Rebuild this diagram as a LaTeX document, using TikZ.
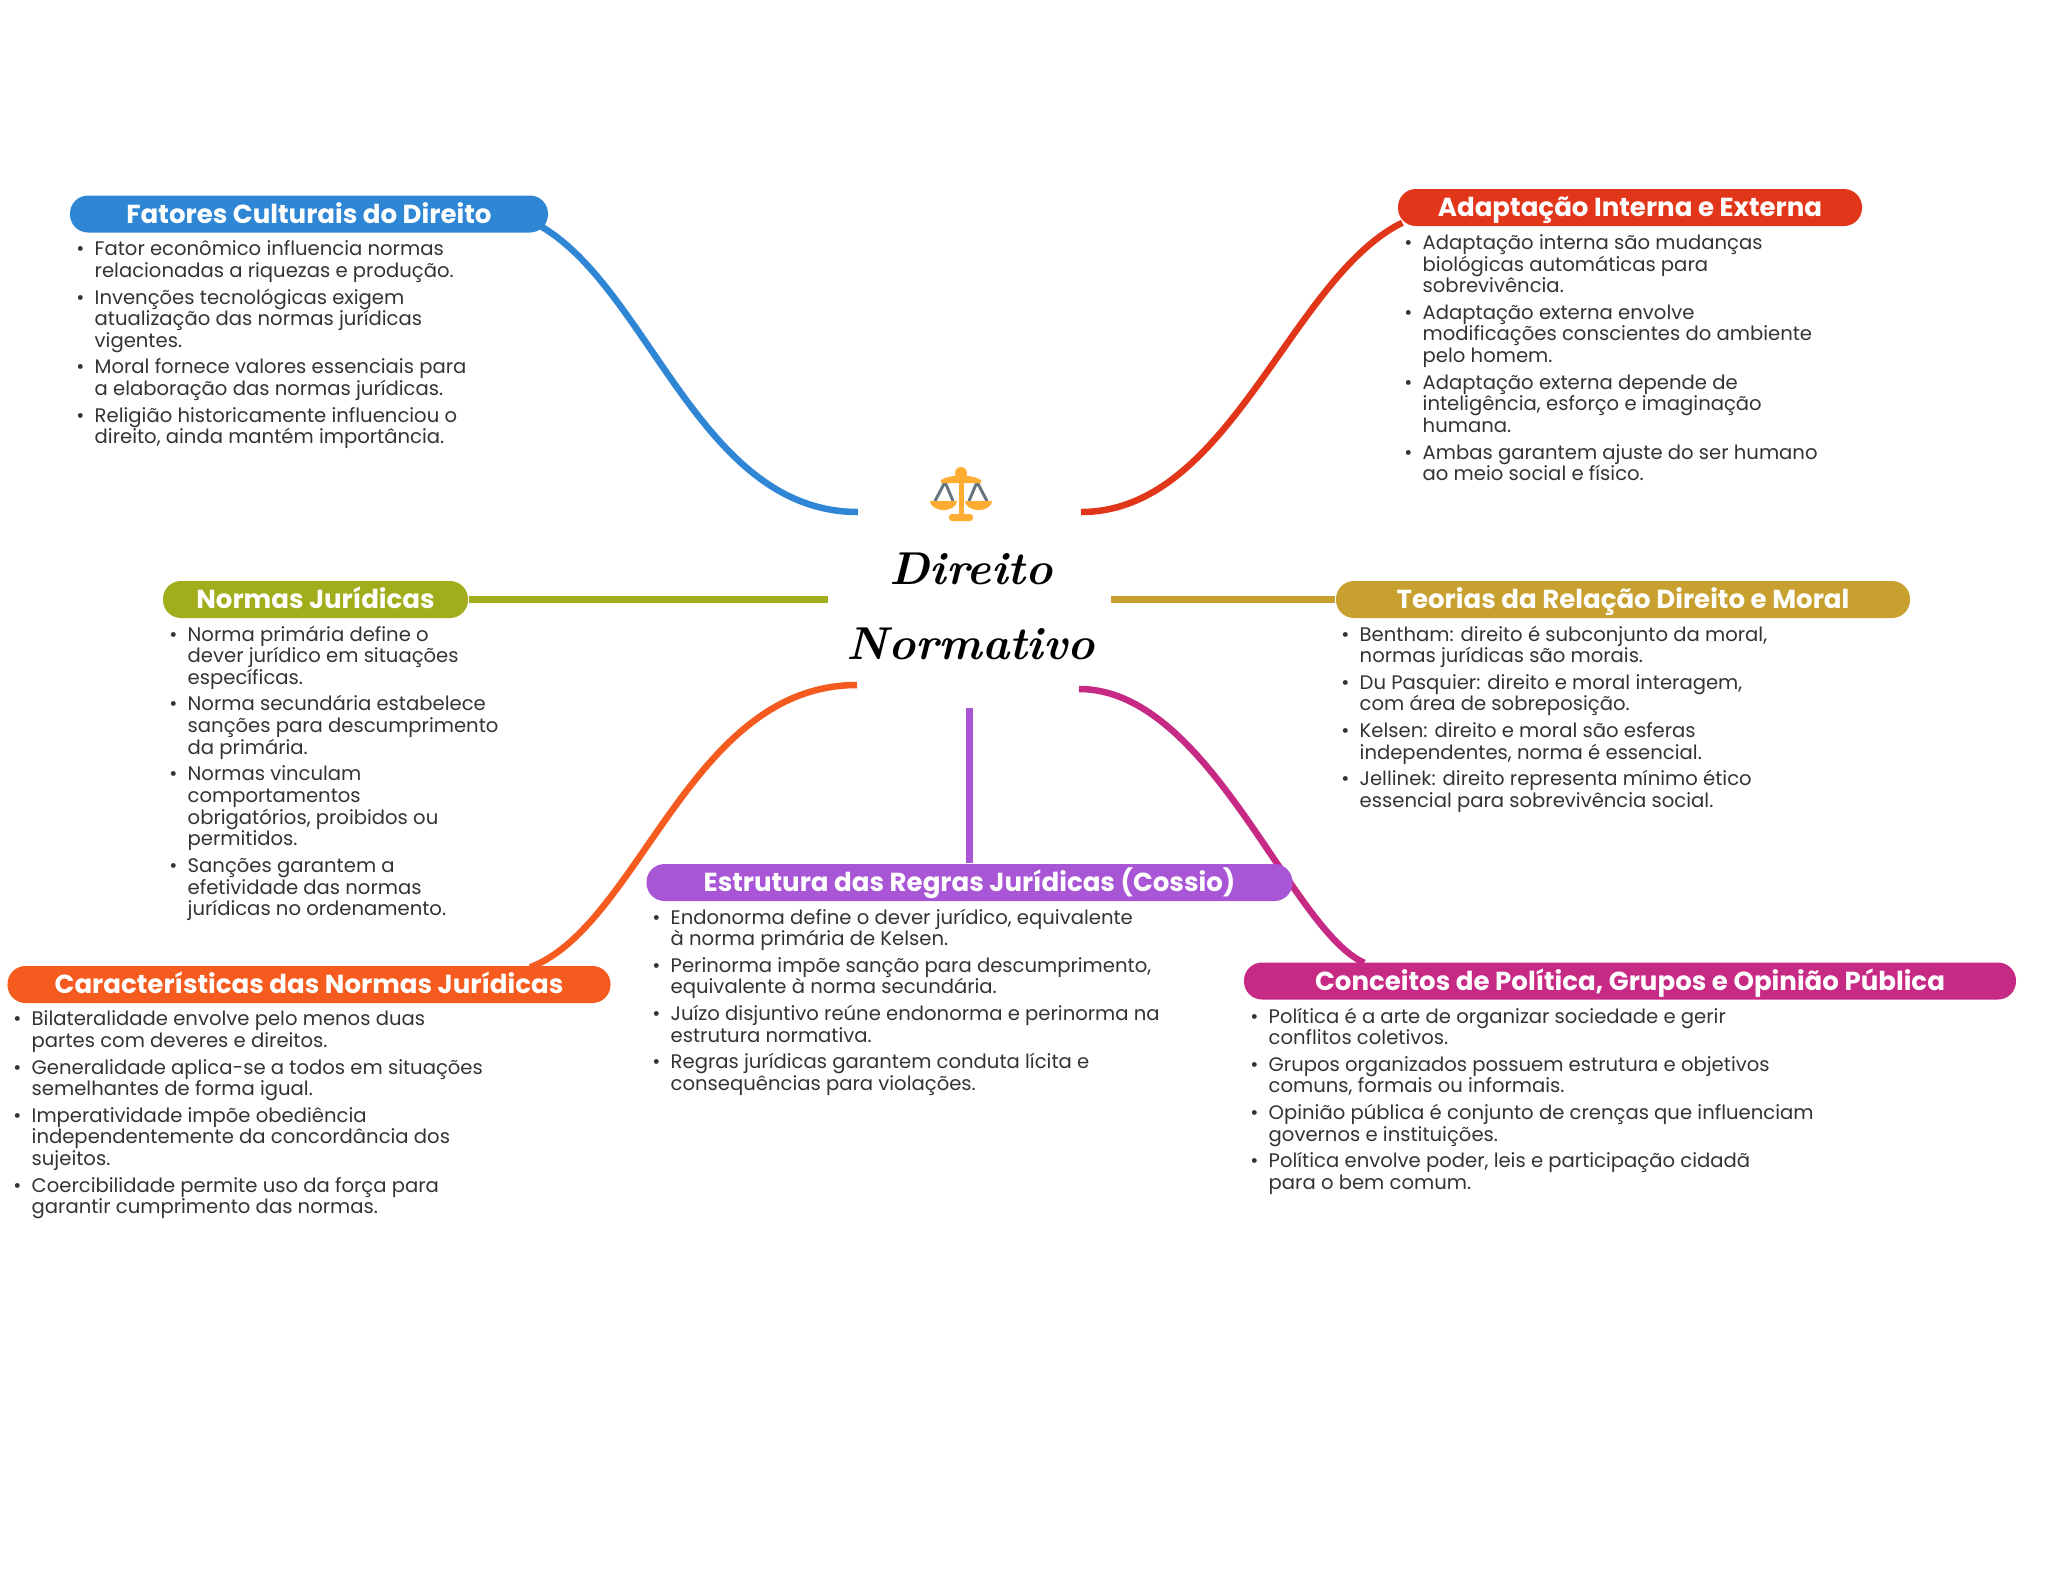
\documentclass[tikz,border=0pt]{standalone}
\usepackage{fontspec}
\setmainfont{Poppins}
\newfontfamily\titlefont{Latin Modern Roman}
\definecolor{cfat}{HTML}{2F86D5}
\definecolor{cada}{HTML}{E2361A}
\definecolor{cnor}{HTML}{A2AD1C}
\definecolor{cteo}{HTML}{C8A02F}
\definecolor{cest}{HTML}{A855D6}
\definecolor{ccar}{HTML}{F55A1E}
\definecolor{ccon}{HTML}{C72A85}
\definecolor{cbody}{HTML}{333333}
\definecolor{cgold}{HTML}{FFAC33}
\definecolor{csteel}{HTML}{66757F}
\newcommand{\bul}{\strut\llap{\textbullet\hspace{2.9pt}}}
\tikzset{
  pill/.style={rounded corners=0.18cm, minimum height=0.37cm, inner sep=0pt,
               text height=0.21cm, text depth=0.03cm,
               text=white, font=\fontsize{7.42}{8}\selectfont\bfseries},
  body/.style={anchor=north west, inner sep=0pt, align=left, text=cbody,
               font={\fontsize{5.58}{6.17}\selectfont\lineskiplimit=-5pt}},
  link/.style={line width=0.065cm},
}

\begin{document}
\begin{tikzpicture}
\useasboundingbox (0,0) rectangle (20.48,-15.69);

%% ends of the links around the title
\coordinate (hfat) at (8.58,-5.12);
\coordinate (hada) at (10.81,-5.12);
\coordinate (hnor) at (8.28,-5.995);
\coordinate (hteo) at (11.11,-5.995);
\coordinate (hcar) at (8.57,-6.85);
\coordinate (hest) at (9.695,-7.08);
\coordinate (hcon) at (10.79,-6.89);

%% branch heads
\coordinate (pfat) at (3.09,-2.14);
\coordinate (pada) at (16.30,-2.075);
\coordinate (pnor) at (3.155,-5.995);
\coordinate (pteo) at (16.23,-5.995);
\coordinate (pest) at (9.695,-8.825);
\coordinate (pcar) at (3.09,-9.845);
\coordinate (pcon) at (16.30,-9.81);

% links go first, the heads cover their ends
\path (pfat) node[pill, minimum width=4.78cm] (fat) {}
      (pada) node[pill, minimum width=4.64cm] (ada) {}
      (pnor) node[pill, minimum width=3.05cm] (nor) {}
      (pteo) node[pill, minimum width=5.74cm] (teo) {}
      (pest) node[pill, minimum width=6.46cm] (est) {}
      (pcar) node[pill, minimum width=6.03cm] (car) {}
      (pcon) node[pill, minimum width=7.72cm] (con) {};

\draw[link, cfat] ([shift={(-0.08,0.07)}]fat.south east)
  .. controls (6.50,-2.90) and (7.00,-5.12) .. (hfat);
\draw[link, cada] ([shift={(0.05,0.04)}]ada.south west)
  .. controls (12.90,-2.78) and (12.30,-5.12) .. (hada);
\draw[link, cnor] (nor.east) -- (hnor);
\draw[link, cteo] (teo.west) -- (hteo);
\draw[link, cest] (est.north) -- (hest);
\draw[link, ccar] ([shift={(-0.81,-0.02)}]car.north east)
  .. controls (6.40,-9.25) and (6.90,-6.85) .. (hcar);
\draw[link, ccon] ([shift={(1.21,-0.01)}]con.north west)
  .. controls (12.90,-9.30) and (12.10,-6.89) .. (hcon);

%% heads
\node[pill, fill=cfat, minimum width=4.78cm] (fatt) at (pfat) {Fatores Culturais do Direito};
\node[pill, fill=cada, minimum width=4.64cm] (adat) at (pada) {Adaptação Interna e Externa};
\node[pill, fill=cnor, minimum width=3.05cm] (nort) at (pnor) {Normas Jurídicas};
\node[pill, fill=cteo, minimum width=5.74cm] (teot) at (pteo) {Teorias da Relação Direito e Moral};
\node[pill, fill=cest, minimum width=6.46cm] (estt) at (pest) {Estrutura das Regras Jurídicas (Cossio)};
\node[pill, fill=ccar, minimum width=6.03cm] (cart) at (pcar) {Características das Normas Jurídicas};
\node[pill, fill=ccon, minimum width=7.72cm] (cont) at (pcon) {Conceitos de Política, Grupos e Opinião Pública};

%% bullet lists
\node[body] (lfat) at (0.94,-2.40) {\bul Fator econômico influencia normas\\relacionadas a riquezas e produção.\\[1.37pt]
  \bul Invenções tecnológicas exigem\\atualização das normas jurídicas\\vigentes.\\[1.37pt]
  \bul Moral fornece valores essenciais para\\a elaboração das normas jurídicas.\\[1.37pt]
  \bul Religião historicamente influenciou o\\direito, ainda mantém importância.};
\node[body] (lada) at (14.22,-2.335) {\bul Adaptação interna são mudanças\\biológicas automáticas para\\sobrevivência.\\[1.37pt]
  \bul Adaptação externa envolve\\modificações conscientes do ambiente\\pelo homem.\\[1.37pt]
  \bul Adaptação externa depende de\\inteligência, esforço e imaginação\\humana.\\[1.37pt]
  \bul Ambas garantem ajuste do ser humano\\ao meio social e físico.};
\node[body] (lnor) at (1.87,-6.25) {\bul Norma primária define o\\dever jurídico em situações\\específicas.\\[1.37pt]
  \bul Norma secundária estabelece\\sanções para descumprimento\\da primária.\\[1.37pt]
  \bul Normas vinculam\\comportamentos\\obrigatórios, proibidos ou\\permitidos.\\[1.37pt]
  \bul Sanções garantem a\\efetividade das normas\\jurídicas no ordenamento.};
\node[body] (lteo) at (13.59,-6.25) {\bul Bentham: direito é subconjunto da moral,\\normas jurídicas são morais.\\[1.37pt]
  \bul Du Pasquier: direito e moral interagem,\\com área de sobreposição.\\[1.37pt]
  \bul Kelsen: direito e moral são esferas\\independentes, norma é essencial.\\[1.37pt]
  \bul Jellinek: direito representa mínimo ético\\essencial para sobrevivência social.};
\node[body] (lest) at (6.70,-9.08) {\bul Endonorma define o dever jurídico, equivalente\\à norma primária de Kelsen.\\[1.37pt]
  \bul Perinorma impõe sanção para descumprimento,\\equivalente à norma secundária.\\[1.37pt]
  \bul Juízo disjuntivo reúne endonorma e perinorma na\\estrutura normativa.\\[1.37pt]
  \bul Regras jurídicas garantem conduta lícita e\\consequências para violações.};
\node[body] (lcar) at (0.31,-10.10) {\bul Bilateralidade envolve pelo menos duas\\partes com deveres e direitos.\\[1.37pt]
  \bul Generalidade aplica-se a todos em situações\\semelhantes de forma igual.\\[1.37pt]
  \bul Imperatividade impõe obediência\\independentemente da concordância dos\\sujeitos.\\[1.37pt]
  \bul Coercibilidade permite uso da força para\\garantir cumprimento das normas.};
\node[body] (lcon) at (12.68,-10.07) {\bul Política é a arte de organizar sociedade e gerir\\conflitos coletivos.\\[1.37pt]
  \bul Grupos organizados possuem estrutura e objetivos\\comuns, formais ou informais.\\[1.37pt]
  \bul Opinião pública é conjunto de crenças que influenciam\\governos e instituições.\\[1.37pt]
  \bul Política envolve poder, leis e participação cidadã\\para o bem comum.};

%% title
\node[align=center, inner sep=0pt, font=\titlefont\itshape\bfseries\fontsize{13.1}{21.3}\selectfont] (hub) at (9.71,-6.06)
  {Direito\\Normativo};

%% scales above the title
\draw[csteel, line width=0.03cm] (9.45,-4.82) -- (9.35,-5.01) (9.45,-4.82) -- (9.53,-5.01)
  (9.77,-4.82) -- (9.69,-5.01) (9.77,-4.82) -- (9.87,-5.01);
\fill[cgold] (9.585,-4.70) rectangle (9.635,-5.17);
\fill[cgold] (9.61,-4.73) circle (0.06);
\fill[cgold] (9.41,-4.80) .. controls (9.5,-4.74) and (9.72,-4.74) .. (9.81,-4.80)
  -- (9.81,-4.83) -- (9.41,-4.83) -- cycle;
\fill[cgold] (9.30,-5.01) -- (9.57,-5.01) arc (0:-180:0.135 and 0.09) -- cycle;
\fill[cgold] (9.65,-5.01) -- (9.92,-5.01) arc (0:-180:0.135 and 0.09) -- cycle;
\fill[cgold, rounded corners=0.03cm] (9.49,-5.21) rectangle (9.73,-5.14);

\end{tikzpicture}
\end{document}
